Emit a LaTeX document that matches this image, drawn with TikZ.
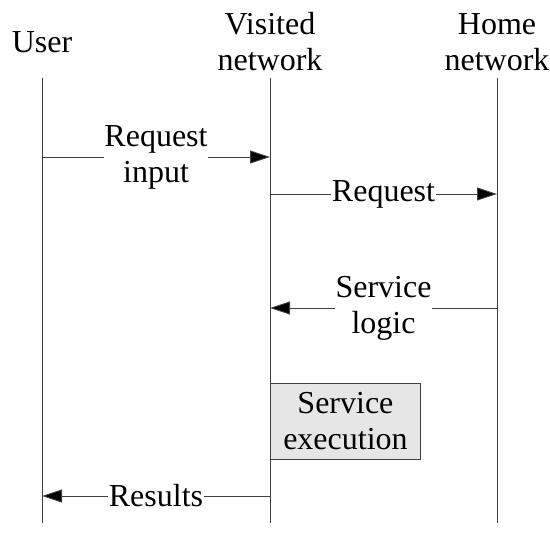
\documentclass[tikz,border=0pt]{standalone}
\usepackage{fontspec}
\setmainfont{Liberation Serif}
\usetikzlibrary{arrows.meta}
\definecolor{linegray}{HTML}{404040}
\definecolor{boxfill}{HTML}{E6E6E6}
\tikzset{
  head/.style={align=center,inner sep=0pt,font=\fontsize{32}{36}\selectfont},
  lifeline/.style={draw=linegray,line width=0.9pt},
  msg/.style={draw=linegray,line width=0.9pt,-{Triangle[length=20pt,width=13pt,fill=black]}},
  lbl/.style={fill=white,align=center,inner sep=0.5pt,font=\fontsize{32}{36}\selectfont},
  actbox/.style={draw=linegray,fill=boxfill,line width=0.9pt,align=center,inner sep=0pt,
    minimum width=150pt,minimum height=76pt,font=\fontsize{32}{36}\selectfont}
}
\begin{document}
\begin{tikzpicture}[x=1pt,y=-1pt]
\useasboundingbox (0,0) rectangle (550,533);
\node[head] (user) at (42,42) {User};
\node[head] (vis) at (270,42) {Visited\\network};
\node[head] (home) at (497,42) {Home\\network};
\coordinate (ut) at (42,78);  \coordinate (ub) at (42,523);
\coordinate (vt) at (270,78); \coordinate (vb) at (270,523);
\coordinate (ht) at (497,78); \coordinate (hb) at (497,523);
\draw[lifeline] (ut) -- (ub);
\draw[lifeline] (vt) -- (vb);
\draw[lifeline] (ht) -- (hb);
% messages
\coordinate (u1) at (42,157);  \coordinate (v1) at (270,157);
\coordinate (v2) at (270,194); \coordinate (h2) at (497,194);
\coordinate (h3) at (497,308); \coordinate (v3) at (270,308);
\coordinate (v5) at (270,496); \coordinate (u5) at (42,496);
\draw[msg] (u1) -- (v1) node[midway,lbl] {Request\\input};
\draw[msg] (v2) -- (h2) node[midway,lbl] {Request};
\draw[msg] (h3) -- (v3) node[midway,lbl] {Service\\logic};
\node[actbox,anchor=west] (exec) at (270,421) {Service\\execution};
\draw[msg] (v5) -- (u5) node[midway,lbl] {Results};
\end{tikzpicture}
\end{document}
